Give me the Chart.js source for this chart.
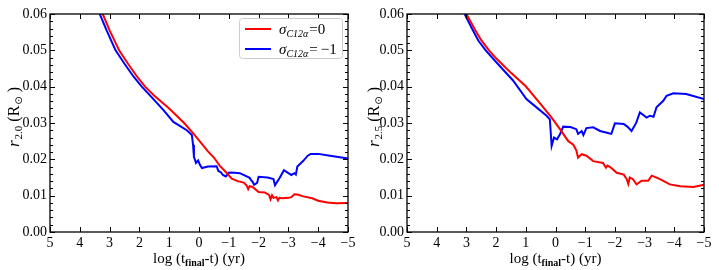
<!DOCTYPE html>
<html>
<head>
<meta charset="utf-8">
<script src="https://cdn.jsdelivr.net/npm/chart.js@4.4.1/dist/chart.umd.min.js"></script>
<style>
  body { margin:0; background:#fff; }
  .wrap { position:absolute; top:0; height:270px; }
</style>
</head>
<body>
<div class="wrap" style="left:0;width:360px"><canvas id="left"></canvas></div>
<div class="wrap" style="left:360px;width:359px"><canvas id="right"></canvas></div>
<script>
// data
const leftRedX = [3.23, 3.0, 2.68, 2.4, 2.1, 1.81, 1.5, 1.0, 0.5, 0.2, 0.0, -0.3, -0.5, -0.7, -0.9, -1.1, -1.3, -1.5, -1.6, -1.65, -1.7, -1.8, -2.0, -2.2, -2.35, -2.4, -2.45, -2.5, -2.6, -2.65, -2.7, -2.8, -3.0, -3.1, -3.2, -3.3, -3.5, -3.8, -4.0, -4.3, -4.6, -5.0];
const leftRedY = [0.060, 0.0555, 0.050, 0.0465, 0.0430, 0.040, 0.0375, 0.034, 0.030, 0.0272, 0.0252, 0.0222, 0.0205, 0.0182, 0.0165, 0.0147, 0.0140, 0.0136, 0.0128, 0.0118, 0.0126, 0.0124, 0.0110, 0.0109, 0.0102, 0.0090, 0.0101, 0.0094, 0.0096, 0.0087, 0.0094, 0.0093, 0.0094, 0.0096, 0.0104, 0.0103, 0.0098, 0.0093, 0.0086, 0.0081, 0.0079, 0.0080];
const leftBlueX = [3.33, 3.1, 2.8, 2.5, 2.2, 1.92, 1.6, 1.2, 0.86, 0.41, 0.24, 0.2, 0.17, 0.1, 0.03, -0.03, -0.1, -0.3, -0.59, -0.65, -0.74, -0.8, -0.9, -1.0, -1.1, -1.37, -1.7, -1.75, -1.8, -1.85, -1.95, -2.0, -2.3, -2.5, -2.55, -2.7, -2.85, -3.0, -3.1, -3.2, -3.25, -3.3, -3.5, -3.65, -3.75, -4.0, -4.4, -5.0];
const leftBlueY = [0.060, 0.0555, 0.050, 0.0463, 0.0428, 0.040, 0.0372, 0.0336, 0.0303, 0.0280, 0.0267, 0.0240, 0.0207, 0.0190, 0.0197, 0.0185, 0.0176, 0.0180, 0.0181, 0.0168, 0.0164, 0.0157, 0.0153, 0.0163, 0.0164, 0.0162, 0.0149, 0.0143, 0.0138, 0.0130, 0.0135, 0.0152, 0.0150, 0.0146, 0.0129, 0.0148, 0.0170, 0.0162, 0.0157, 0.0162, 0.0158, 0.0180, 0.0196, 0.0210, 0.0215, 0.0215, 0.0210, 0.0202];

const rightRedX = [3.0, 2.7, 2.5, 2.24, 2.0, 1.5, 1.0, 0.5, 0.13, -0.15, -0.43, -0.6, -0.7, -0.76, -0.88, -1.04, -1.27, -1.6, -1.7, -1.75, -1.85, -2.06, -2.3, -2.4, -2.45, -2.5, -2.6, -2.73, -2.9, -3.12, -3.24, -3.5, -3.85, -4.2, -4.65, -5.0];
const rightRedY = [0.060, 0.0555, 0.0528, 0.050, 0.0478, 0.0438, 0.0401, 0.0352, 0.0315, 0.0283, 0.0250, 0.0240, 0.0225, 0.0205, 0.0214, 0.0210, 0.0195, 0.0190, 0.0177, 0.0183, 0.0178, 0.0163, 0.0158, 0.0145, 0.0132, 0.0150, 0.0146, 0.0131, 0.0141, 0.0141, 0.0155, 0.0146, 0.0131, 0.0126, 0.0124, 0.0130];
const rightBlueX = [3.06, 2.8, 2.6, 2.35, 2.0, 1.43, 0.98, 0.64, 0.3, 0.19, 0.13, 0.05, -0.05, -0.15, -0.26, -0.5, -0.7, -0.76, -0.88, -0.94, -1.04, -1.27, -1.5, -1.7, -1.88, -2.0, -2.3, -2.42, -2.56, -2.72, -2.84, -3.07, -3.18, -3.3, -3.4, -3.63, -3.74, -3.97, -4.4, -5.0];
const rightBlueY = [0.060, 0.0558, 0.0527, 0.050, 0.0468, 0.0417, 0.0366, 0.0343, 0.0320, 0.0310, 0.0237, 0.0260, 0.0255, 0.0269, 0.0290, 0.0289, 0.0283, 0.0270, 0.0278, 0.0267, 0.0286, 0.0288, 0.0278, 0.0274, 0.0270, 0.0299, 0.0297, 0.0290, 0.0278, 0.0301, 0.0329, 0.0315, 0.0320, 0.0317, 0.0343, 0.0361, 0.0375, 0.0382, 0.0380, 0.0366];

const xTicks = [5, 4, 3, 2, 1, 0, -1, -2, -3, -4, -5];
const yTicks = [0.00, 0.01, 0.02, 0.03, 0.04, 0.05, 0.06];
const legendLabels = ['=0', '=\u2009\u22121'];

const SERIF = '"Liberation Serif", "DejaVu Serif", serif';

const toPoints = (xs, ys) => xs.map((x, i) => ({x: x, y: ys[i]}));

// draws text pieces with sub/superscript offsets, centred on (x, y)
function drawRich(ctx, parts, x, y) {
  let w = 0;
  parts.forEach(p => { ctx.font = p.font; p.w = ctx.measureText(p.t).width + (p.gap || 0); w += p.w; });
  let cx = x - w / 2;
  ctx.textBaseline = 'alphabetic';
  ctx.textAlign = 'left';
  parts.forEach(p => {
    ctx.font = p.font;
    ctx.fillText(p.t, cx, y + (p.dy || 0));
    cx += p.w;
  });
  return w;
}

const frameTicks = {
  id: 'frameTicks',
  afterDatasetsDraw(chart) {
    const ctx = chart.ctx;
    const a = chart.chartArea;
    const xs = chart.scales.x, ys = chart.scales.y;
    ctx.save();
    ctx.strokeStyle = '#000';
    ctx.lineWidth = 1;
    ctx.beginPath();
    xTicks.forEach(v => {
      const px = Math.round(xs.getPixelForValue(v)) + 0.5;
      ctx.moveTo(px, a.bottom); ctx.lineTo(px, a.bottom - 5);
      ctx.moveTo(px, a.top); ctx.lineTo(px, a.top + 5);
    });
    for (let i = 0; i <= 30; i++) {
      const py = Math.round(ys.getPixelForValue(i * 0.002)) + 0.5;
      const len = i % 5 === 0 ? 5 : 3;
      ctx.moveTo(a.left, py); ctx.lineTo(a.left + len, py);
      ctx.moveTo(a.right, py); ctx.lineTo(a.right - len, py);
    }
    ctx.stroke();
    ctx.lineWidth = 1.3;
    ctx.strokeRect(a.left, a.top, a.right - a.left, a.bottom - a.top);
    ctx.restore();
  }
};

const titles = {
  id: 'titles',
  afterDraw(chart, args, opts) {
    const ctx = chart.ctx;
    const a = chart.chartArea;
    ctx.save();
    ctx.fillStyle = '#000';
    drawRich(ctx, [
      {t: 'log (t', font: '15px ' + SERIF},
      {t: 'final', font: 'bold 10px ' + SERIF, dy: 3},
      {t: '-t) (yr)', font: '15px ' + SERIF}
    ], (a.left + a.right) / 2, 263);
    ctx.translate(opts.yLabelX, 117);
    ctx.rotate(-Math.PI / 2);
    drawRich(ctx, [
      {t: 'r', font: 'italic 17px ' + SERIF, gap: 1},
      {t: opts.sub, font: '11px ' + SERIF, dy: 3, gap: 4},
      {t: '(R', font: '16px ' + SERIF, gap: 1},
      {t: '\u2299', font: '10px "DejaVu Sans"', dy: 3, gap: 4},
      {t: ')', font: '16px ' + SERIF}
    ], 0, 5);
    ctx.restore();
  }
};

const sigmaLegend = {
  id: 'sigmaLegend',
  afterDraw(chart, args, opts) {
    if (!opts.show) return;
    const ctx = chart.ctx;
    ctx.save();
    ctx.fillStyle = '#fff';
    ctx.strokeStyle = '#cccccc';
    ctx.lineWidth = 1;
    ctx.beginPath();
    ctx.roundRect(239.5, 18.5, 103, 40, 3);
    ctx.fill();
    ctx.stroke();
    chart.data.datasets.forEach((ds, i) => {
      const y = 29 + i * 20;
      ctx.strokeStyle = ds.borderColor;
      ctx.lineWidth = 2;
      ctx.beginPath();
      ctx.moveTo(245, y); ctx.lineTo(271, y);
      ctx.stroke();
      ctx.fillStyle = '#000';
      const parts = [
        {t: '\u03c3', font: 'italic 15px ' + SERIF},
        {t: 'C12\u03b1', font: 'italic 10px ' + SERIF, dy: 3, gap: 1},
        {t: legendLabels[i], font: '15px ' + SERIF}
      ];
      let w = 0;
      parts.forEach(p => { ctx.font = p.font; w += ctx.measureText(p.t).width + (p.gap || 0); });
      drawRich(ctx, parts, 279 + w / 2, y + 5);
    });
    ctx.restore();
  }
};

function makeChart(id, redX, redY, blueX, blueY, yWidth, rightPad, opts) {
  return new Chart(document.getElementById(id), {
    type: 'line',
    data: {
      datasets: [
        {data: toPoints(redX, redY), borderColor: '#ff0000', borderWidth: 2, pointRadius: 0, tension: 0},
        {data: toPoints(blueX, blueY), borderColor: '#0000ff', borderWidth: 2, pointRadius: 0, tension: 0}
      ]
    },
    options: {
      responsive: true,
      maintainAspectRatio: false,
      animation: false,
      layout: {padding: {top: 14, right: rightPad, left: 0, bottom: 0}},
      scales: {
        x: {
          type: 'linear', reverse: true, min: -5, max: 5,
          afterBuildTicks: s => { s.ticks = xTicks.map(v => ({value: v})); },
          afterFit: s => { s.height = 38; },
          border: {display: false},
          grid: {drawOnChartArea: false, drawTicks: false},
          ticks: {padding: 3, color: '#000', font: {family: SERIF, size: 14},
                  callback: v => v < 0 ? '\u2212' + Math.abs(v) : String(v)}
        },
        y: {
          type: 'linear', min: 0, max: 0.06,
          afterBuildTicks: s => { s.ticks = yTicks.map(v => ({value: v})); },
          afterFit: s => { s.width = yWidth; },
          border: {display: false},
          grid: {drawOnChartArea: false, drawTicks: false},
          ticks: {padding: 3, color: '#000', font: {family: SERIF, size: 14},
                  callback: v => v.toFixed(2)}
        }
      },
      plugins: {
        legend: {display: false},
        tooltip: {enabled: false},
        titles: opts,
        sigmaLegend: {show: opts.legend}
      }
    },
    plugins: [frameTicks, titles, sigmaLegend]
  });
}

makeChart('left', leftRedX, leftRedY, leftBlueX, leftBlueY, 50, 12,
  {sub: '2.0', yLabelX: 14, legend: true});
makeChart('right', rightRedX, rightRedY, rightBlueX, rightBlueY, 47, 15,
  {sub: '2.5', yLabelX: 14, legend: false});
</script>
</body>
</html>
